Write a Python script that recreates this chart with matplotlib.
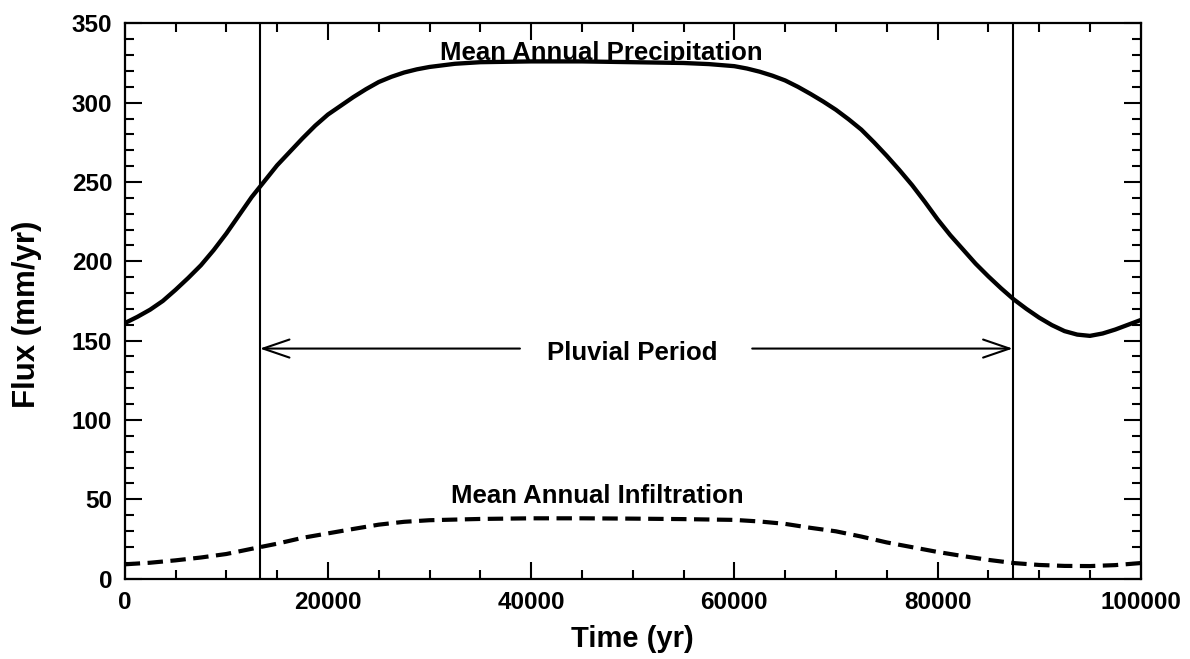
import matplotlib
matplotlib.use("Agg")
import matplotlib.pyplot as plt

plt.rcParams['font.family'] = ['Liberation Sans', 'DejaVu Sans']
plt.rcParams['font.weight'] = 'bold'

# Data
precip_t = [0, 1250, 2500, 3750, 5000, 6250, 7500, 8750, 10000, 11250, 12500,
            13750, 15000, 16250, 17500, 18750, 20000, 21250, 22500, 23750, 25000,
            26250, 27500, 28750, 30000, 32500, 35000, 40000, 45000, 50000, 55000,
            57500, 60000, 61250, 62500, 63750, 65000, 66250, 67500, 68750, 70000,
            71250, 72500, 73750, 75000, 76250, 77500, 78750, 80000, 81250, 82500,
            83750, 85000, 86250, 87500, 88750, 90000, 91250, 92500, 93750, 95000,
            96250, 97500, 98750, 100000]
precip_v = [161, 165, 169.5, 175, 182, 189.5, 197.5, 207, 217.5, 229, 240.5,
            250.5, 260.5, 269, 277.5, 285.5, 292.5, 298, 303.5, 308.5, 313,
            316.3, 319, 321, 322.5, 324.5, 325.5, 326, 326, 325.5, 325,
            324.3, 323, 321.5, 319.5, 317, 314, 310, 305.5, 300.7, 295.5,
            289.5, 283, 275, 266.5, 257.5, 248, 237.5, 226.5, 216.5, 207.5,
            198.5, 190.5, 183, 176, 170, 164.5, 159.8, 156, 153.8, 153,
            154.5, 157, 160, 163]

infil_t = [0, 2500, 5000, 7500, 10000, 12500, 15000, 17500, 20000, 22500, 25000,
           27500, 30000, 35000, 40000, 45000, 50000, 55000, 60000, 62500, 65000,
           67500, 70000, 72500, 75000, 77500, 80000, 82500, 85000, 87500, 90000,
           92500, 95000, 97500, 100000]
infil_v = [9, 10, 11.5, 13.3, 15.5, 18.8, 22, 25.7, 28.5, 31.3, 34,
           35.8, 36.8, 37.6, 38, 38, 37.8, 37.5, 37, 36, 34.5,
           32, 29.8, 26.5, 22.8, 19.8, 16.8, 14.2, 11.8, 9.8, 8.6,
           8, 7.9, 8.5, 9.8]

pluvial_start = 13300
pluvial_end = 87400
arrow_y = 145

fig = plt.figure(figsize=(11.9, 6.59), dpi=100)
ax = fig.add_axes([0.1048, 0.122, 0.9586 - 0.1048, 0.9646 - 0.122])

ax.plot(precip_t, precip_v, color='black', lw=3.1, solid_capstyle='butt',
        solid_joinstyle='round')
ax.plot(infil_t, infil_v, color='black', lw=3.0, linestyle=(0, (3.7, 1.8)),
        dash_capstyle='butt')

ax.axvline(pluvial_start, color='black', lw=1.5)
ax.axvline(pluvial_end, color='black', lw=1.5)

arrowprops = dict(arrowstyle='->,head_length=1.9,head_width=0.65',
                  color='black', lw=1.5, shrinkA=0, shrinkB=0,
                  mutation_scale=10)
ax.annotate('', xy=(pluvial_start, arrow_y), xytext=(38900, arrow_y),
            arrowprops=arrowprops)
ax.annotate('', xy=(pluvial_end, arrow_y), xytext=(61760, arrow_y),
            arrowprops=arrowprops)

ax.text(46940, 327, 'Mean Annual Precipitation', ha='center', va='baseline',
        fontsize=18.5, fontweight='bold')
ax.text(49930, 137.5, 'Pluvial Period', ha='center', va='baseline',
        fontsize=18.5, fontweight='bold')
ax.text(46490, 47.7, 'Mean Annual Infiltration', ha='center', va='baseline',
        fontsize=18.5, fontweight='bold')

ax.set_xlim(0, 100000)
ax.set_ylim(0, 350)
ax.set_xticks([0, 20000, 40000, 60000, 80000, 100000])
ax.set_xticks(range(0, 100001, 5000), minor=True)
ax.set_yticks(range(0, 351, 50))
ax.set_yticks(range(0, 351, 10), minor=True)

ax.tick_params(which='both', direction='in', top=True, right=True, width=1.5,
               labelsize=17.5, pad=9)
ax.tick_params(which='major', length=12.5)
ax.tick_params(which='minor', length=6.5)
for lab in ax.get_xticklabels() + ax.get_yticklabels():
    lab.set_fontweight('bold')

for s in ax.spines.values():
    s.set_linewidth(1.6)

ax.set_xlabel('Time (yr)', fontsize=21, fontweight='bold')
ax.xaxis.label.set_va('baseline')
ax.xaxis.set_label_coords(0.5, -0.123)
ax.set_ylabel('Flux (mm/yr)', fontsize=22.5, fontweight='bold')
ax.yaxis.label.set_va('center')
ax.yaxis.set_label_coords(-0.0962, 0.4756)

fig.savefig('out.png', dpi=100, facecolor='white')
